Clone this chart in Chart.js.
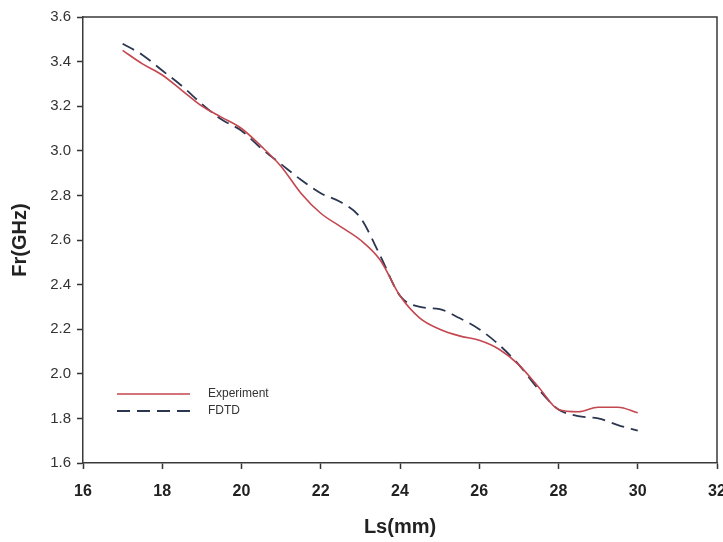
<!DOCTYPE html>
<html>
<head>
<meta charset="utf-8">
<script src="https://cdn.jsdelivr.net/npm/chart.js@4/dist/chart.umd.min.js"></script>
<style>
  html,body{margin:0;padding:0;background:#fff;}
  #wrap{position:relative;width:723px;height:542px;}
</style>
</head>
<body>
<div id="wrap"><canvas id="c" width="723" height="542"></canvas></div>
<script>
// ---- data ----
const lsValues = [17,17.5,18,18.5,19,19.5,20,20.5,21,21.5,22,22.5,23,23.5,24,24.5,25,25.5,26,26.5,27,27.5,28,28.5,29,29.5,30];
const experimentValues = [3.45,3.39,3.34,3.27,3.20,3.15,3.10,3.02,2.93,2.81,2.72,2.66,2.60,2.51,2.35,2.25,2.20,2.17,2.15,2.11,2.04,1.94,1.84,1.83,1.85,1.85,1.825];
const fdtdValues = [3.48,3.43,3.36,3.29,3.21,3.14,3.09,3.01,2.94,2.87,2.81,2.77,2.70,2.53,2.35,2.30,2.29,2.25,2.20,2.13,2.04,1.93,1.84,1.81,1.80,1.77,1.745];
const seriesNames = ["Experiment","FDTD"];
const xTickValues = [16,18,20,22,24,26,28,30,32];
const xTickLabels = ["16","18","20","22","24","26","28","30","32"];
const yTickValues = [1.6,1.8,2.0,2.2,2.4,2.6,2.8,3.0,3.2,3.4,3.6];
const yTickLabels = ["1.6","1.8","2.0","2.2","2.4","2.6","2.8","3.0","3.2","3.4","3.6"];
const xTitle = "Ls(mm)";
const yTitle = "Fr(GHz)";

const toPts = vals => lsValues.map((x,i)=>({x:x, y:vals[i]}));

const frame = {
  id:'frame',
  afterDatasetsDraw(chart){
    const {ctx, chartArea:a} = chart;
    ctx.save();
    ctx.strokeStyle = '#3a3a3a';
    ctx.lineWidth = 1.5;
    ctx.beginPath();
    ctx.moveTo(a.left, a.top); ctx.lineTo(a.right, a.top); ctx.lineTo(a.right, a.bottom);
    ctx.stroke();
    ctx.restore();
  }
};

const legendInside = {
  id:'legendInside',
  afterDatasetsDraw(chart){
    const {ctx, chartArea:a} = chart;
    ctx.save();
    const x0 = a.left + 34, x1 = a.left + 107, tx = a.left + 125;
    const ys = [a.bottom - 69, a.bottom - 52];
    chart.data.datasets.forEach((ds,i)=>{
      ctx.strokeStyle = ds.borderColor;
      ctx.lineWidth = ds.borderWidth;
      ctx.setLineDash(ds.borderDash || []);
      ctx.beginPath(); ctx.moveTo(x0, ys[i]); ctx.lineTo(x1, ys[i]); ctx.stroke();
      ctx.setLineDash([]);
      ctx.fillStyle = '#333';
      ctx.font = '12px "Liberation Sans", Arial, sans-serif';
      ctx.textBaseline = 'middle';
      ctx.fillText(ds.label, tx, ys[i]);
    });
    ctx.restore();
  }
};

new Chart(document.getElementById('c'), {
  type:'line',
  data:{
    datasets:[
      {label:seriesNames[0], data:toPts(experimentValues), borderColor:'#c4464f', borderWidth:1.6,
       pointRadius:0, cubicInterpolationMode:'monotone', fill:false},
      {label:seriesNames[1], data:toPts(fdtdValues), borderColor:'#2b3650', borderWidth:1.8, borderDash:[13,7],
       pointRadius:0, cubicInterpolationMode:'monotone', fill:false}
    ]
  },
  options:{
    responsive:false, animation:false,
    layout:{padding:{top:17, right:6, left:0, bottom:0}},
    plugins:{legend:{display:false}, tooltip:{enabled:false}},
    scales:{
      x:{
        type:'linear', min:16, max:32,
        afterFit(s){ s.height = 79; s.paddingRight = 0; s.paddingLeft = 0; },
        afterBuildTicks(s){ s.ticks = xTickValues.map(v=>({value:v})); },
        ticks:{ callback:(v)=> xTickLabels[xTickValues.indexOf(v)], color:'#222', padding:13,
                font:{family:'"Liberation Sans", Arial, sans-serif', size:16, weight:'bold'}, maxRotation:0 },
        grid:{ drawOnChartArea:false, drawTicks:true, tickLength:6, color:'#333', tickWidth:1.5 },
        border:{ color:'#3a3a3a', width:1.5 },
        title:{ display:true, text:xTitle, color:'#222', padding:{top:4,bottom:3},
                font:{family:'"Liberation Sans", Arial, sans-serif', size:20, weight:'bold'} }
      },
      y:{
        type:'linear', min:1.6, max:3.6,
        afterFit(s){ s.width = 83; s.paddingTop = 0; s.paddingBottom = 0; },
        afterBuildTicks(s){ s.ticks = yTickValues.map(v=>({value:v})); },
        ticks:{ callback:(v)=> yTickLabels[yTickValues.findIndex(t=>Math.abs(t-v)<1e-9)], color:'#333', padding:6,
                font:{family:'"Liberation Sans", Arial, sans-serif', size:15} },
        grid:{ drawOnChartArea:false, drawTicks:true, tickLength:6, color:'#333', tickWidth:1.5 },
        border:{ color:'#3a3a3a', width:1.5 },
        title:{ display:true, text:yTitle, color:'#222', padding:{top:8,bottom:4},
                font:{family:'"Liberation Sans", Arial, sans-serif', size:20, weight:'bold'} }
      }
    }
  },
  plugins:[frame, legendInside]
});
</script>
</body>
</html>
